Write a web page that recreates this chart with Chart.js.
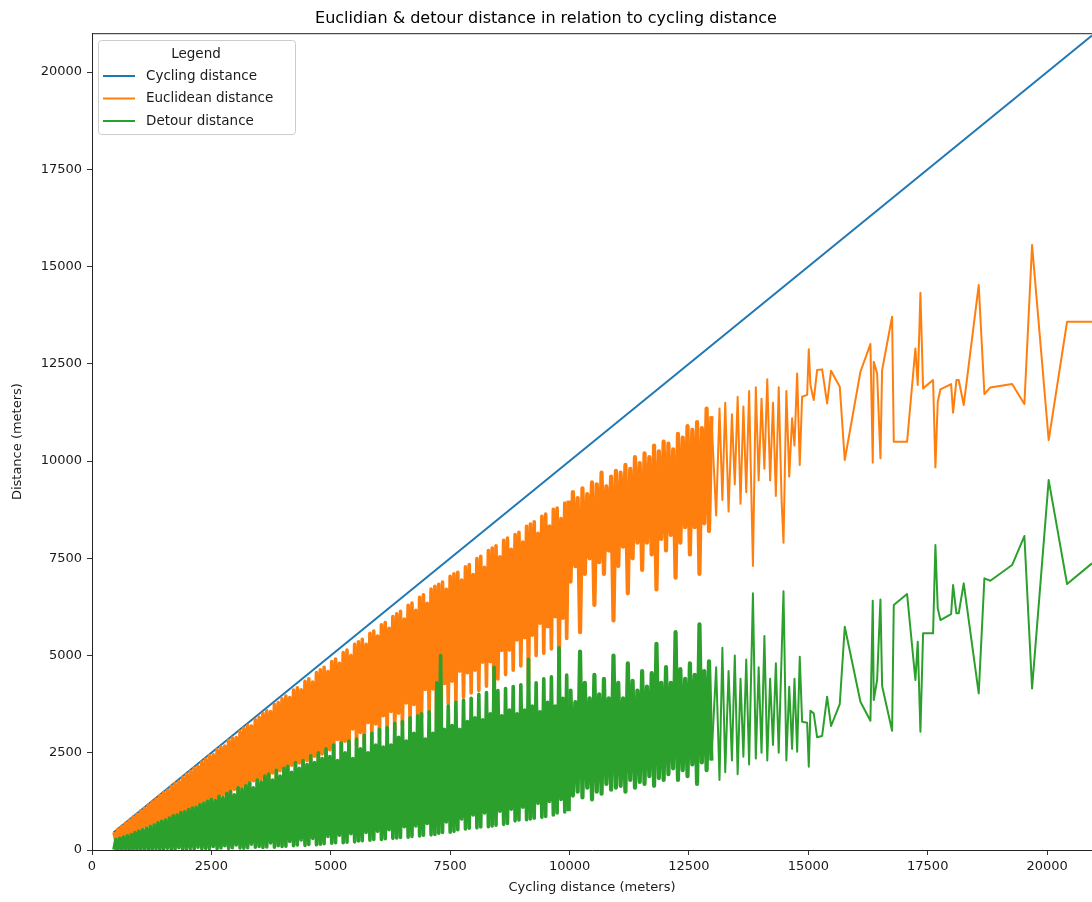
<!DOCTYPE html>
<html lang="en">
<head>
    <meta charset="UTF-8">
    <title>Euclidian &amp; detour distance in relation to cycling distance</title>
    <script src="https://cdn.jsdelivr.net/npm/chart.js"></script>
    <style>
        html, body { margin: 0; padding: 0; background: #fff; }
        #wrap { width: 1092px; height: 902px; }
    </style>
</head>
<body>
    <div id="wrap"><canvas id="distChart" width="1092" height="902"></canvas></div>

    <script>
        // Cycling distance line (y = cycling distance itself)
        const cyclingX = [450, 20940];
        const cyclingY = [450, 20940];

        // Dense part: trips sorted by cycling distance (m)
        const distA = [460,500,540,580,620,660,700,740,780,820,
            860,900,940,980,1020,1060,1100,1140,1180,1220,
            1260,1300,1340,1380,1420,1460,1500,1540,1580,1620,
            1660,1700,1740,1780,1820,1860,1900,1940,1980,2020,
            2060,2100,2140,2180,2220,2260,2300,2340,2380,2420,
            2460,2500,2540,2580,2620,2660,2700,2740,2780,2820,
            2860,2900,2940,2980,3020,3060,3100,3140,3180,3220,
            3260,3300,3340,3380,3420,3460,3500,3540,3580,3620,
            3660,3700,3740,3780,3820,3860,3900,3940,3980,4020,
            4060,4100,4140,4180,4220,4260,4300,4340,4380,4420,
            4460,4500,4540,4580,4620,4660,4700,4740,4780,4820,
            4860,4900,4940,4980,5020,5060,5100,5140,5180,5220,
            5260,5300,5340,5380,5420,5460,5500,5540,5580,5620,
            5660,5700,5740,5780,5820,5860,5900,5940,5980,6020,
            6060,6100,6140,6180,6220,6260,6300,6340,6380,6420,
            6460,6500,6540,6580,6620,6660,6700,6740,6780,6820,
            6860,6900,6940,6980,7020,7060,7100,7140,7180,7220,
            7260,7300,7340,7380,7420,7460,7500,7540,7580,7620,
            7660,7700,7740,7780,7820,7860,7900,7940,7980,8020,
            8060,8100,8140,8180,8220,8260,8300,8340,8380,8420,
            8460,8500,8540,8580,8620,8660,8700,8740,8780,8820,
            8860,8900,8940,8980,9020,9060,9100,9140,9180,9220,
            9260,9300,9340,9380,9420,9460,9500,9540,9580,9620,
            9660,9700,9740,9780,9820,9860,9900,9940,9980];
        const euclidA = [452,230,530,280,608,325,684,375,762,420,
            845,450,918,490,1006,540,1070,580,1162,620,
            1240,660,1305,680,1398,720,1472,770,1535,800,
            1635,820,1710,880,1760,900,1872,960,1945,980,
            2020,1020,2108,1080,2150,1100,2262,1140,2335,1170,
            2420,1200,2450,1310,2578,1280,2650,1400,2670,1370,
            2815,1400,2880,1560,2890,1460,3045,1580,3132,1570,
            3200,1580,3190,1780,3350,1660,3410,1790,3515,1720,
            3580,1750,3560,1980,3745,1810,3790,2040,3890,1920,
            3960,1950,3920,2180,4110,2010,4170,2240,4120,2120,
            4340,2300,4400,2160,4320,2410,4565,2240,4630,2470,
            4700,2300,4590,2580,4845,2360,4910,2840,4800,2470,
            5075,2800,5140,2580,5000,3110,5290,2690,5350,3020,
            5420,2750,5290,3280,5570,2860,5630,3240,5500,2920,
            5790,3450,5850,3030,5700,3560,6000,3090,6070,3520,
            6140,3200,5940,3780,6290,3260,6350,3740,6160,3370,
            6500,3400,6560,4130,6340,3510,6710,4140,6780,2920,
            6830,2300,6890,4280,6700,3760,7040,4340,7100,3820,
            7140,4600,6940,3930,7280,4560,7340,4040,7080,4620,
            7490,4100,7550,4830,7270,4210,7700,4840,7760,3720,
            7820,4400,7540,5130,7960,4510,8020,5140,7730,4620,
            8110,5400,8170,4730,7920,5460,8320,4240,8380,5520,
            8440,5000,8140,5830,8580,5060,8640,5740,8330,5170,
            8760,6000,8790,4580,8520,5960,8920,5440,8980];
        const detourA = [8,270,10,300,12,335,16,365,18,400,
            15,450,22,490,14,520,30,560,18,600,
            20,640,35,700,22,740,28,770,45,820,
            25,880,30,900,60,960,28,980,35,1040,
            40,1080,32,1100,70,1160,38,1200,45,1250,
            40,1300,90,1270,42,1380,50,1340,110,1450,
            45,1500,60,1420,130,1600,55,1560,48,1650,
            60,1720,150,1600,70,1800,90,1750,65,1900,
            80,1950,180,1800,75,2050,110,1900,90,2100,
            100,2150,220,2000,110,2250,130,2100,260,2300,
            120,2200,140,2420,300,2250,135,2500,150,2350,
            160,2600,350,2400,175,2700,190,2300,380,2750,
            185,2500,200,2800,420,2350,210,2850,230,2600,
            240,2950,450,2500,250,3000,270,2700,480,3100,
            270,2650,290,3150,520,2700,300,3250,310,2900,
            320,3300,600,2800,330,3400,350,3000,620,3450,
            360,3500,380,2850,680,3550,390,3000,400,4300,
            430,5000,450,3100,720,3700,460,3200,480,3800,
            520,3100,800,3850,540,3300,560,3900,900,3400,
            570,4000,590,3350,950,4050,600,3500,620,4700,
            640,4100,1000,3450,660,4150,680,3600,1050,4200,
            750,3500,770,4250,1100,3600,780,4900,800,3700,
            820,4300,1200,3550,840,4400,860,3800,1250,4450,
            900,3700,950,5200,1300,3900,980,4500,1000];

        const distB = [10020,10070,10120,10170,10220,10270,10320,10370,10420,10470,
            10520,10570,10620,10670,10720,10770,10820,10870,10920,10970,
            11020,11070,11120,11170,11220,11270,11320,11370,11420,11470,
            11520,11570,11620,11670,11720,11770,11820,11870,11920,11970,
            12020,12070,12120,12170,12220,12270,12320,12370,12420,12470,
            12520,12570,12620,12670,12720,12770,12820,12870,12920,12970];
        const euclidB = [6900,9200,7300,9050,5600,9300,7100,9150,7500,9450,
            6300,9400,7400,9700,7100,9350,7700,9600,5900,9750,
            7300,9700,7800,9900,6600,9800,7500,10100,7900,9950,
            7200,10200,7900,10100,7600,10400,6700,10250,8000,10500,
            7700,10450,8100,10300,7000,10700,7900,10600,8300,10900,
            7600,10800,8300,11000,7100,10850,8400,11350,8200,11150];
        const detourB = [4100,1400,3800,1500,5100,1350,4300,1600,3900,1300,
            4500,1500,4000,1450,4400,1700,3900,1550,5000,1600,
            4300,1650,3900,1500,4800,1800,4350,1600,4100,1750,
            4600,1700,4200,1900,4550,1650,5300,1850,4300,1800,
            4700,1950,4300,2100,5600,1800,4650,2050,4400,1900,
            4800,2200,4500,1700,5800,2250,4600,2050,4850,2300];

        const distC = [13070,13140,13200,13260,13330,13400,13460,13520,13580,13640,
            13700,13760,13840,13900,13960,14020,14080,14140,14200,14260,
            14320,14380,14440,14480,14540,14600,14660,14710];
        const euclidC = [8600,11350,9000,11500,8700,11200,9400,11650,8900,11400,
            9200,11800,7300,11900,9500,11600,9800,12100,9500,11500,
            9100,11900,9000,7900,11800,9600,11100,10400];
        const detourC = [4700,1800,5200,2000,4600,2300,5000,1950,4400,2400,
            4900,2200,6600,2350,4700,2500,5500,2300,4400,2700,
            4800,2500,5000,6650,2300,4200,2600,4400];

        // Sparse tail, individual trips
        const distTail = [14766,14820,14870,14975,15009,15044,15113,15184,15289,15393,
            15476,15658,15763,16091,16300,16349,16370,16440,16510,16545,
            16754,16789,17068,17242,17291,17347,17403,17612,17661,17710,
            17766,17990,18031,18101,18149,18254,18568,18687,18812,19267,
            19524,19685,20033,20418,20940];
        const euclidTail = [12254,9897,11653,11700,12872,11954,11568,12339,12357,11482,
            12322,11910,10026,12296,13008,9958,12553,12254,10069,12339,
            13710,10497,10497,12896,11954,14327,11868,12082,9838,11525,
            11842,11979,11242,12082,12082,11440,14524,11722,11893,11979,
            11465,15553,10540,13581,13581];
        const detourTail = [2527,4969,3298,3270,2142,3581,3513,2897,2931,3941,
            3188,3753,5741,3813,3324,6409,3856,4370,6443,4216,
            3066,6298,6581,4370,5355,3041,5570,5570,7841,6212,
            5913,6067,6812,6084,6084,6855,4027,6984,6923,7326,
            8072,4155,9511,6838,7370];

        const xTicks = [0, 2500, 5000, 7500, 10000, 12500, 15000, 17500, 20000];
        const yTicks = [0, 2500, 5000, 7500, 10000, 12500, 15000, 17500, 20000];

        const trips = distA.concat(distB, distC, distTail);
        const euclid = euclidA.concat(euclidB, euclidC, euclidTail);
        const detour = detourA.concat(detourB, detourC, detourTail);

        function toPoints(xs, ys) {
            return xs.map((x, i) => ({ x: x, y: ys[i] }));
        }

        // the original has thousands of trips in the dense part; thicker
        // strokes there make the fewer points read as the same solid band
        function bandWidth(s) {
            const x = s.p1.parsed.x;
            if (x <= 10000) return 3.6;
            if (x <= 13000) return 4.2;
            return 2;
        }

        Chart.defaults.font.family = '"DejaVu Sans", sans-serif';
        Chart.defaults.font.size = 13;
        Chart.defaults.color = '#1a1a1a';

        // top spine of the axes box
        const topSpine = {
            id: 'topSpine',
            afterDraw(chart) {
                const c = chart.ctx;
                const a = chart.chartArea;
                c.save();
                c.strokeStyle = '#222';
                c.lineWidth = 1;
                c.beginPath();
                c.moveTo(a.left, a.top + 0.5);
                c.lineTo(a.right, a.top + 0.5);
                c.stroke();
                c.restore();
            }
        };

        // legend box in the upper left, like matplotlib
        const legendBox = {
            id: 'legendBox',
            afterDraw(chart) {
                const c = chart.ctx;
                c.save();
                c.fillStyle = 'rgba(255,255,255,0.8)';
                c.strokeStyle = '#cccccc';
                c.lineWidth = 1;
                c.beginPath();
                c.roundRect(98.5, 40.5, 197, 94, 3);
                c.fill();
                c.stroke();
                c.font = '13.5px "DejaVu Sans"';
                c.fillStyle = '#1a1a1a';
                c.textBaseline = 'middle';
                c.textAlign = 'center';
                c.fillText('Legend', 196, 54);
                c.textAlign = 'left';
                chart.data.datasets.forEach((ds, i) => {
                    const y = 76 + i * 22.5;
                    c.strokeStyle = ds.borderColor;
                    c.lineWidth = 2;
                    c.beginPath();
                    c.moveTo(103, y);
                    c.lineTo(135, y);
                    c.stroke();
                    c.fillText(ds.label, 146, y);
                });
                c.restore();
            }
        };

        const ctx = document.getElementById('distChart').getContext('2d');
        new Chart(ctx, {
            type: 'line',
            data: {
                datasets: [
                    { label: 'Cycling distance', data: toPoints(cyclingX, cyclingY), borderColor: '#1f77b4', order: 3 },
                    { label: 'Euclidean distance', data: toPoints(trips, euclid), borderColor: '#ff7f0e', order: 2,
                      segment: { borderWidth: bandWidth } },
                    { label: 'Detour distance', data: toPoints(trips, detour), borderColor: '#2ca02c', order: 1,
                      segment: { borderWidth: bandWidth } }
                ]
            },
            options: {
                responsive: false,
                animation: false,
                normalized: true,
                layout: { padding: 0 },
                elements: {
                    point: { radius: 0, hoverRadius: 0 },
                    line: { borderWidth: 2, tension: 0, fill: false, borderJoinStyle: 'round' }
                },
                plugins: {
                    legend: { display: false },
                    tooltip: { enabled: false },
                    title: {
                        display: true,
                        text: 'Euclidian & detour distance in relation to cycling distance',
                        color: '#000',
                        font: { size: 16, weight: 'normal' },
                        padding: { top: 9, bottom: 5 }
                    }
                },
                scales: {
                    x: {
                        type: 'linear',
                        min: 0,
                        max: 20940,
                        afterBuildTicks: s => { s.ticks = xTicks.map(v => ({ value: v })); },
                        afterFit: s => { s.height = 52; },
                        ticks: { padding: 4, maxRotation: 0, autoSkip: false, callback: v => String(v) },
                        grid: { drawOnChartArea: false, drawTicks: true, tickLength: 5, color: '#333' },
                        border: { display: true, color: '#222', width: 1 },
                        title: { display: true, text: 'Cycling distance (meters)', padding: { top: 4, bottom: 7 } }
                    },
                    y: {
                        type: 'linear',
                        min: 0,
                        max: 21000,
                        afterBuildTicks: s => { s.ticks = yTicks.map(v => ({ value: v })); },
                        afterFit: s => { s.width = 92; },
                        ticks: { padding: 5, autoSkip: false, callback: v => String(v) },
                        grid: { drawOnChartArea: false, drawTicks: true, tickLength: 5, color: '#333' },
                        border: { display: true, color: '#222', width: 1 },
                        title: { display: true, text: 'Distance (meters)', padding: { top: 10, bottom: 0 } }
                    }
                }
            },
            plugins: [topSpine, legendBox]
        });
    </script>
</body>
</html>
